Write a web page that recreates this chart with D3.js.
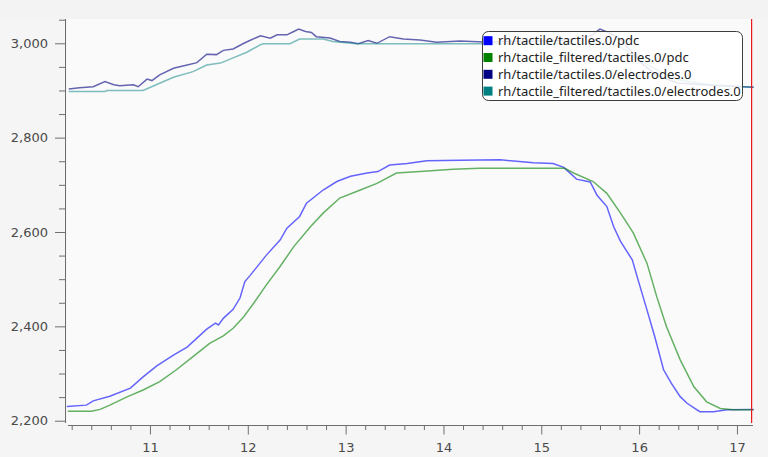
<!DOCTYPE html>
<html>
<head>
<meta charset="utf-8">
<script src="https://cdn.jsdelivr.net/npm/d3@7"></script>
<style>
  body { margin: 0; background: #f3f3f3; }
  svg { display: block; }
</style>
</head>
<body>
<div id="plot"></div>
<script>
// series data: [time (s), value]
var pdcRaw = [
  [10.15, 2230], [10.35, 2233], [10.42, 2242], [10.59, 2252], [10.80, 2269],
  [10.93, 2293], [11.07, 2316], [11.24, 2339], [11.38, 2356], [11.48, 2375],
  [11.58, 2394], [11.67, 2407], [11.70, 2403], [11.75, 2417], [11.85, 2436],
  [11.92, 2460], [11.97, 2495], [12.02, 2507], [12.09, 2525], [12.19, 2551],
  [12.33, 2583], [12.40, 2608], [12.53, 2633], [12.60, 2661], [12.77, 2689],
  [12.91, 2707], [13.05, 2718], [13.22, 2725], [13.33, 2728], [13.45, 2742],
  [13.63, 2745], [13.83, 2751], [14.17, 2752], [14.58, 2753], [14.92, 2747],
  [15.12, 2745], [15.23, 2737], [15.36, 2712], [15.50, 2706], [15.57, 2678],
  [15.67, 2654], [15.74, 2611], [15.81, 2580], [15.93, 2541], [15.99, 2498],
  [16.08, 2435], [16.16, 2378], [16.25, 2308], [16.33, 2279], [16.42, 2251],
  [16.49, 2237], [16.62, 2219], [16.76, 2219], [16.90, 2223], [17.17, 2224]
];
var pdcFiltered = [
  [10.16, 2220], [10.40, 2220], [10.49, 2224], [10.59, 2233], [10.76, 2250],
  [10.93, 2265], [11.10, 2283], [11.27, 2308], [11.44, 2336], [11.61, 2364],
  [11.75, 2380], [11.85, 2396], [11.95, 2418], [12.06, 2449], [12.19, 2488],
  [12.33, 2527], [12.47, 2569], [12.64, 2611], [12.77, 2640], [12.94, 2672],
  [13.15, 2689], [13.32, 2703], [13.52, 2725], [13.76, 2728], [14.10, 2733],
  [14.37, 2735], [15.24, 2735], [15.33, 2725], [15.53, 2707], [15.67, 2682],
  [15.81, 2640], [15.94, 2598], [16.08, 2534], [16.18, 2463], [16.28, 2399],
  [16.42, 2329], [16.56, 2272], [16.69, 2240], [16.83, 2226], [16.96, 2223],
  [17.17, 2223]
];
var electrodesRaw = [
  [10.17, 2903], [10.28, 2906], [10.42, 2908], [10.54, 2919], [10.63, 2912],
  [10.69, 2910], [10.83, 2912], [10.88, 2908], [10.97, 2924], [11.02, 2921],
  [11.10, 2933], [11.24, 2947], [11.38, 2954], [11.48, 2959], [11.58, 2977],
  [11.68, 2976], [11.75, 2985], [11.85, 2988], [11.95, 2999], [12.02, 3006],
  [12.13, 3016], [12.23, 3011], [12.30, 3018], [12.40, 3018], [12.47, 3025],
  [12.52, 3030], [12.59, 3025], [12.65, 3023], [12.70, 3014], [12.84, 3011],
  [12.94, 3004], [13.05, 3002], [13.13, 2999], [13.23, 3006], [13.32, 3000],
  [13.45, 3014], [13.59, 3009], [13.76, 3007], [13.93, 3002], [14.17, 3005],
  [14.41, 3003], [14.78, 3004], [15.19, 3006], [15.50, 3015], [15.60, 3030],
  [15.66, 3025], [15.78, 3013], [15.88, 2992], [16.04, 2955], [16.18, 2932],
  [16.39, 2916], [16.66, 2912], [17.06, 2908], [17.17, 2907]
];
var electrodesFiltered = [
  [10.17, 2898], [10.54, 2898], [10.56, 2900], [10.93, 2900], [11.04, 2910],
  [11.24, 2928], [11.44, 2940], [11.58, 2954], [11.72, 2958], [11.85, 2969],
  [11.99, 2981], [12.13, 2997], [12.16, 2999], [12.43, 2999], [12.53, 3009],
  [12.77, 3009], [12.87, 3004], [13.11, 2999], [15.60, 2999], [15.80, 2994],
  [16.00, 2965], [16.21, 2940], [16.41, 2922], [16.72, 2912], [17.06, 2908],
  [17.17, 2907]
];

var seriesNames = [
  "rh/tactile/tactiles.0/pdc",
  "rh/tactile_filtered/tactiles.0/pdc",
  "rh/tactile/tactiles.0/electrodes.0",
  "rh/tactile_filtered/tactiles.0/electrodes.0"
];
var seriesColors = ["#0000ff", "#008000", "#000080", "#008080"];
var seriesData = [pdcRaw, pdcFiltered, electrodesRaw, electrodesFiltered];

var yMajorTicks = [2200, 2400, 2600, 2800, 3000];
var xMajorTicks = [11, 12, 13, 14, 15, 16, 17];
var cursorTime = 17.15;

// svg container
var svgWidth = 768;
var svgHeight = 457;

// plot area
var plot = { left: 67, right: 753, top: 19, bottom: 425 };

var svg = d3.select("#plot")
  .append("svg")
  .attr("width", svgWidth)
  .attr("height", svgHeight);

svg.append("rect")
  .attr("x", 0).attr("y", plot.top)
  .attr("width", svgWidth).attr("height", svgHeight - plot.top)
  .attr("fill", "#f5f5f5");

svg.append("rect")
  .attr("x", plot.left).attr("y", plot.top)
  .attr("width", plot.right - plot.left).attr("height", plot.bottom - plot.top)
  .attr("fill", "#fafafa");

// scales
var xScale = d3.scaleLinear()
  .domain([10.152, 17.164])
  .range([plot.left, plot.right]);

var yScale = d3.scaleLinear()
  .domain([2190.9, 3051.5])
  .range([plot.bottom, plot.top]);

var fontFamily = "DejaVu Sans, sans-serif";

// y axis: minor ticks every 50, major every 200
var yMinor = d3.range(2200, 3051, 50).filter(d => d % 200 !== 0);
var yMinorAxis = svg.append("g")
  .attr("transform", `translate(66, 0)`)
  .call(d3.axisLeft(yScale).tickValues(yMinor).tickSize(7).tickFormat(""));
var yAxis = svg.append("g")
  .attr("transform", `translate(66, 0)`)
  .call(d3.axisLeft(yScale).tickValues(yMajorTicks).tickSize(11).tickPadding(7)
    .tickFormat(d3.format(",")));

// x axis: minor ticks every 0.2
var xMinor = d3.range(51, 86).map(d => d / 5).filter(d => d % 1 !== 0);
var xMinorAxis = svg.append("g")
  .attr("transform", `translate(0, 425.5)`)
  .call(d3.axisBottom(xScale).tickValues(xMinor).tickSize(4.5).tickFormat(""));
var xAxis = svg.append("g")
  .attr("transform", `translate(0, 425.5)`)
  .call(d3.axisBottom(xScale).tickValues(xMajorTicks).tickSize(9).tickPadding(8)
    .tickFormat(d3.format("d")));

[yMinorAxis, yAxis, xMinorAxis, xAxis].forEach(function(g) {
  g.select(".domain").remove();
  g.selectAll("line").attr("stroke", "#6e6e6e");
  g.selectAll("text")
    .attr("fill", "#4a4a4a")
    .style("font-family", fontFamily)
    .style("font-size", "13px");
});

// axis lines
svg.append("line")
  .attr("x1", 65.5).attr("x2", 65.5)
  .attr("y1", plot.top).attr("y2", 423)
  .attr("stroke", "#6e6e6e");
svg.append("line")
  .attr("x1", 68).attr("x2", plot.right)
  .attr("y1", 425.5).attr("y2", 425.5)
  .attr("stroke", "#6e6e6e");

// lines
var line = d3.line()
  .x(d => xScale(d[0]))
  .y(d => yScale(d[1]));

svg.append("g")
  .selectAll("path")
  .data(seriesData)
  .enter()
  .append("path")
  .attr("d", line)
  .attr("fill", "none")
  .attr("stroke", (d, i) => seriesColors[i])
  .attr("stroke-width", 1.5)
  .attr("stroke-opacity", (d, i) => i === 3 ? 0.5 : 0.6);

// time cursor
svg.append("line")
  .attr("x1", xScale(cursorTime)).attr("x2", xScale(cursorTime))
  .attr("y1", plot.top).attr("y2", 423)
  .attr("stroke", "#e8141a")
  .attr("stroke-width", 1.2);

// legend
var legend = svg.append("g")
  .attr("transform", "translate(482.5, 31.5)");

legend.append("rect")
  .attr("width", 260)
  .attr("height", 69)
  .attr("rx", 6)
  .attr("fill", "#ffffff")
  .attr("fill-opacity", 0.85)
  .attr("stroke", "#3c3c3c");

var items = legend.selectAll("g.item")
  .data(seriesNames)
  .enter()
  .append("g")
  .attr("class", "item")
  .attr("transform", (d, i) => `translate(0, ${9.2 + i * 16.8})`);

items.append("rect")
  .attr("x", 1)
  .attr("y", -4.5)
  .attr("width", 9)
  .attr("height", 9)
  .attr("fill", (d, i) => seriesColors[i]);

items.append("text")
  .attr("x", 15.5)
  .attr("dy", "0.36em")
  .text(d => d)
  .attr("fill", "#222")
  .style("font-family", "Noto Sans, sans-serif")
  .style("font-size", "13px");
</script>
</body>
</html>
